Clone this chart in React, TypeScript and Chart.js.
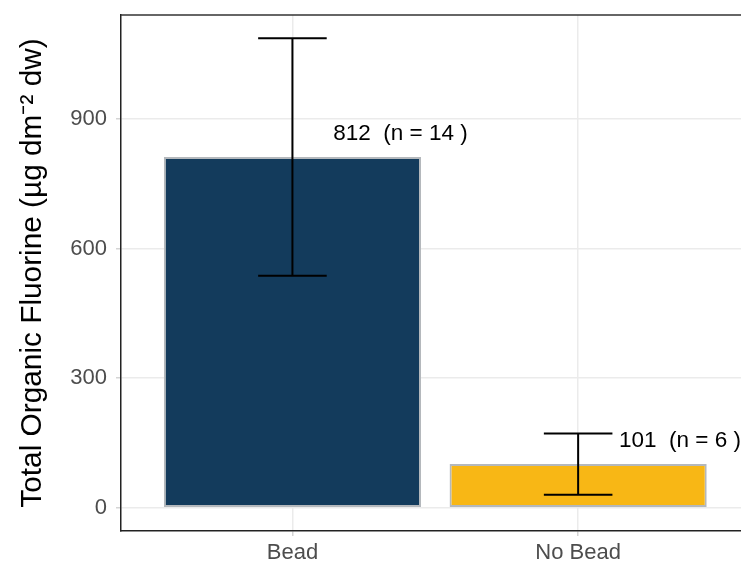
import { useEffect, useRef } from "react";
import { Chart, registerables } from "chart.js";

Chart.register(...registerables);

const categories = ["Bead", "No Bead"];
const means = [812, 101];
const errLow = [537, 30];
const errHigh = [1087, 172];
const sampleSizes = [14, 6];
const barColors = ["#133b5c", "#f8b715"];
const yTickValues = [0, 300, 600, 900];
const yTitle = "Total Organic Fluorine (µg dm⁻² dw)";

const FONT = "'Liberation Sans', Arial, Helvetica, sans-serif";

export default function App() {
  const ref = useRef<HTMLCanvasElement>(null);

  useEffect(() => {
    const canvas = ref.current;
    if (!canvas) return;
    const positions = categories.map((_, i) => i + 1);

    const decorations = {
      id: "decorations",
      beforeDatasetsDraw(chart: any) {
        const { ctx, chartArea } = chart;
        ctx.save();
        ctx.strokeStyle = "#333333";
        ctx.lineWidth = 1.5;
        ctx.beginPath();
        ctx.moveTo(chartArea.left, chartArea.top);
        ctx.lineTo(chartArea.right, chartArea.top);
        ctx.stroke();
        ctx.restore();
      },
      afterDatasetsDraw(chart: any) {
        const { ctx } = chart;
        const xs = chart.scales.x;
        const ys = chart.scales.y;
        ctx.save();
        ctx.strokeStyle = "#000000";
        ctx.lineWidth = 2;
        positions.forEach((p, i) => {
          const cx = xs.getPixelForValue(p);
          const l = xs.getPixelForValue(p - 0.12);
          const r = xs.getPixelForValue(p + 0.12);
          const yLo = ys.getPixelForValue(errLow[i]);
          const yHi = ys.getPixelForValue(errHigh[i]);
          ctx.beginPath();
          ctx.moveTo(cx, yLo);
          ctx.lineTo(cx, yHi);
          ctx.moveTo(l, yLo);
          ctx.lineTo(r, yLo);
          ctx.moveTo(l, yHi);
          ctx.lineTo(r, yHi);
          ctx.stroke();
        });
        ctx.fillStyle = "#000000";
        ctx.font = `22.5px ${FONT}`;
        ctx.textAlign = "left";
        ctx.textBaseline = "middle";
        positions.forEach((p, i) => {
          const x = xs.getPixelForValue(p + 0.143);
          const y = ys.getPixelForValue(means[i] + 53);
          ctx.fillText(`${means[i]}  (n = ${sampleSizes[i]} )`, x, y);
        });
        ctx.restore();
      },
    };

    const chart = new Chart(canvas, {
      type: "bar",
      data: {
        datasets: [
          {
            data: positions.map((x, i) => ({ x, y: means[i] })),
            backgroundColor: barColors,
            borderColor: "#b4b8bc",
            borderWidth: 2,
            borderSkipped: false,
            barPercentage: 0.9,
            categoryPercentage: 1,
          },
        ],
      },
      options: {
        animation: false,
        responsive: false,
        maintainAspectRatio: false,
        layout: { padding: { top: 15, right: 0, left: 0, bottom: 0 } },
        plugins: {
          legend: { display: false },
          tooltip: { enabled: false },
        },
        scales: {
          x: {
            type: "linear",
            offset: false,
            min: 0.4,
            max: 2.57,
            afterBuildTicks: (s: any) => {
              s.ticks = positions.map((v) => ({ value: v }));
            },
            afterFit: (s: any) => {
              s.height = 33;
              s.paddingLeft = 0;
              s.paddingRight = 0;
            },
            ticks: {
              autoSkip: false,
              maxRotation: 0,
              padding: 4,
              color: "#4d4d4d",
              font: { family: FONT, size: 22 },
              callback: (_v: any, i: number) => categories[i],
            },
            grid: {
              offset: false,
              color: "#ebebeb",
              lineWidth: 1.5,
              tickColor: "#d4d4d4",
              tickLength: 5,
              tickWidth: 1.5,
            },
            border: { display: true, color: "#222222", width: 1.5 },
          },
          y: {
            type: "linear",
            min: -54,
            max: 1141,
            afterBuildTicks: (s: any) => {
              s.ticks = yTickValues.map((v) => ({ value: v }));
            },
            afterFit: (s: any) => {
              s.width = 121;
              s.paddingTop = 0;
              s.paddingBottom = 0;
            },
            ticks: {
              padding: 9,
              color: "#4d4d4d",
              font: { family: FONT, size: 22 },
              callback: (v: any) => String(v),
            },
            grid: {
              color: "#ebebeb",
              lineWidth: 1.5,
              tickColor: "#d4d4d4",
              tickLength: 5,
              tickWidth: 1.5,
            },
            border: { display: true, color: "#222222", width: 1.5 },
            title: {
              display: true,
              text: yTitle,
              color: "#000000",
              font: { family: FONT, size: 29.8 },
              padding: { top: 15, bottom: 0 },
            },
          },
        },
      },
      plugins: [decorations],
    } as any);

    return () => chart.destroy();
  }, []);

  return (
    <div style={{ position: "absolute", left: 0, top: 0, width: 741, height: 564, background: "#ffffff" }}>
      <canvas ref={ref} width={741} height={564} style={{ display: "block", width: 741, height: 564 }} />
    </div>
  );
}
